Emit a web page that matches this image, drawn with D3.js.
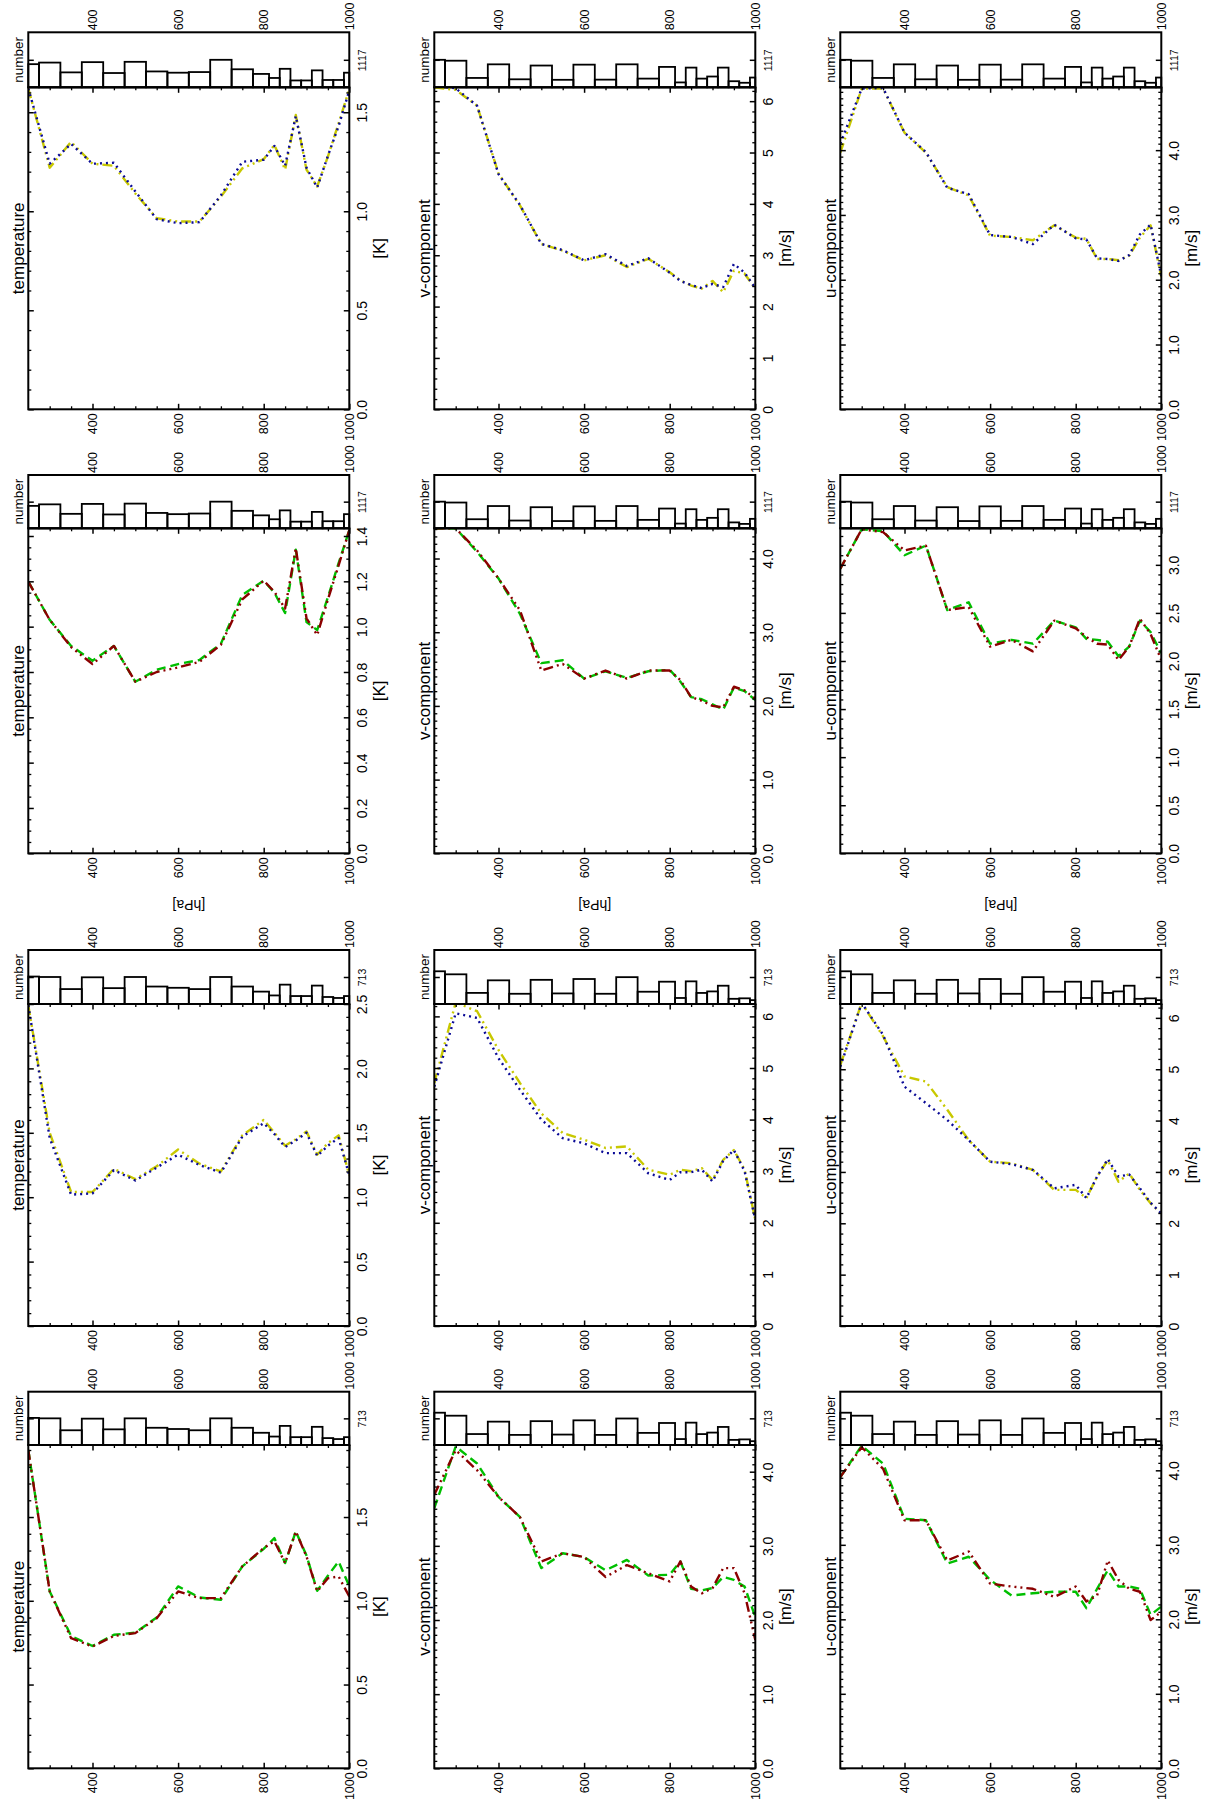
<!DOCTYPE html>
<html>
<head>
<meta charset="utf-8">
<script src="https://cdn.jsdelivr.net/npm/d3@7"></script>
<style>
  body { margin: 0; background: #fff; }
  svg { display: block; }
  text { font-family: "Liberation Sans", Arial, Helvetica, sans-serif; fill: #000; }
</style>
</head>
<body>
<svg id="fig" width="1208" height="1818"></svg>
<script>
// Pressure levels (hPa) of the profiles and of the histogram bins
const levels = [250, 300, 350, 400, 450, 500, 550, 600, 650, 700, 750, 800, 825, 850, 875, 900, 925, 950, 975, 1000];
const pressureLabels = [400, 600, 800, 1000];
const pressureMinor = [300, 350, 450, 500, 550, 650, 700, 750, 850, 900, 950];

// Number of observations per level
const tempCounts1117 = [940, 1004, 606, 1022, 580, 1035, 644, 593, 619, 1117, 732, 543, 379, 751, 278, 278, 688, 297, 297, 593];
const windCounts1117 = [1117, 1080, 380, 933, 325, 884, 304, 920, 311, 933, 353, 828, 198, 800, 353, 438, 800, 247, 184, 396];
const tempCounts713 = [725, 713, 394, 705, 419, 713, 461, 428, 394, 713, 461, 327, 226, 511, 210, 210, 486, 185, 159, 210];
const windCounts713 = [864, 784, 293, 625, 270, 638, 279, 660, 270, 709, 324, 589, 159, 598, 292, 332, 483, 137, 150, 102];

// Profiles, 1117-observation set, first pair
const t1117Yellow = [1.62, 1.22, 1.35, 1.24, 1.23, 1.09, 0.965, 0.948, 0.948, 1.074, 1.217, 1.263, 1.335, 1.21, 1.486, 1.21, 1.125, 1.276, 1.444, 1.616];
const t1117Blue   = [1.62, 1.24, 1.34, 1.24, 1.245, 1.10, 0.96, 0.94, 0.945, 1.08, 1.25, 1.26, 1.33, 1.23, 1.48, 1.22, 1.12, 1.28, 1.43, 1.61];
const v1117Yellow = [6.27, 6.22, 5.91, 4.59, 3.97, 3.22, 3.09, 2.90, 3.00, 2.77, 2.93, 2.67, 2.51, 2.41, 2.35, 2.50, 2.28, 2.70, 2.64, 2.35];
const v1117Blue   = [6.30, 6.25, 5.91, 4.58, 3.98, 3.22, 3.10, 2.90, 3.02, 2.79, 2.94, 2.66, 2.50, 2.42, 2.36, 2.44, 2.38, 2.83, 2.66, 2.36];
const u1117Yellow = [3.96, 4.95, 4.95, 4.27, 3.96, 3.43, 3.30, 2.68, 2.66, 2.61, 2.84, 2.65, 2.63, 2.32, 2.32, 2.30, 2.37, 2.65, 2.84, 2.04];
const u1117Blue   = [4.10, 4.95, 4.96, 4.27, 3.97, 3.42, 3.32, 2.69, 2.66, 2.55, 2.85, 2.64, 2.62, 2.33, 2.32, 2.29, 2.38, 2.70, 2.85, 2.06];

// Profiles, 1117-observation set, second pair
const t1117Red   = [1.199, 1.03, 0.91, 0.835, 0.915, 0.757, 0.80, 0.82, 0.845, 0.92, 1.12, 1.203, 1.154, 1.08, 1.346, 1.037, 0.963, 1.12, 1.27, 1.426];
const t1117Green = [1.199, 1.03, 0.915, 0.85, 0.915, 0.757, 0.81, 0.835, 0.853, 0.925, 1.14, 1.203, 1.15, 1.06, 1.34, 1.02, 0.985, 1.13, 1.28, 1.426];
const v1117Red   = [4.41, 4.41, 4.11, 3.73, 3.30, 2.48, 2.57, 2.37, 2.48, 2.37, 2.48, 2.48, 2.35, 2.12, 2.07, 2.00, 1.98, 2.26, 2.21, 2.10];
const v1117Green = [4.41, 4.41, 4.09, 3.73, 3.25, 2.58, 2.62, 2.37, 2.47, 2.38, 2.47, 2.49, 2.33, 2.12, 2.09, 2.02, 1.95, 2.25, 2.20, 2.08];
const u1117Red   = [2.96, 3.37, 3.34, 3.15, 3.20, 2.53, 2.56, 2.15, 2.22, 2.10, 2.42, 2.34, 2.25, 2.18, 2.17, 2.01, 2.15, 2.44, 2.28, 2.01];
const u1117Green = [2.96, 3.37, 3.35, 3.10, 3.20, 2.53, 2.61, 2.18, 2.22, 2.18, 2.42, 2.35, 2.23, 2.22, 2.20, 2.05, 2.15, 2.42, 2.30, 2.08];

// Profiles, 713-observation set, first pair
const t713Yellow = [2.49, 1.50, 1.04, 1.04, 1.22, 1.14, 1.24, 1.37, 1.26, 1.20, 1.48, 1.60, 1.50, 1.40, 1.45, 1.51, 1.33, 1.42, 1.48, 1.17];
const t713Blue   = [2.49, 1.46, 1.02, 1.03, 1.21, 1.13, 1.23, 1.33, 1.25, 1.19, 1.47, 1.575, 1.49, 1.39, 1.44, 1.50, 1.32, 1.40, 1.46, 1.17];
const v713Yellow = [4.71, 6.27, 6.10, 5.35, 4.71, 4.12, 3.74, 3.61, 3.45, 3.48, 3.03, 2.93, 3.03, 3.00, 3.06, 2.83, 3.22, 3.41, 3.03, 2.06];
const v713Blue   = [4.64, 6.06, 5.97, 5.19, 4.58, 4.00, 3.64, 3.54, 3.35, 3.35, 2.96, 2.83, 2.98, 2.98, 3.03, 2.80, 3.20, 3.41, 3.00, 2.06];
const u713Yellow = [5.08, 6.29, 5.64, 4.86, 4.76, 4.21, 3.62, 3.20, 3.17, 3.04, 2.65, 2.65, 2.49, 2.91, 3.23, 2.81, 2.97, 2.65, 2.39, 2.19];
const u713Blue   = [5.05, 6.29, 5.67, 4.66, 4.34, 4.01, 3.62, 3.20, 3.15, 3.04, 2.68, 2.75, 2.49, 2.91, 3.25, 2.91, 2.95, 2.68, 2.40, 2.19];

// Profiles, 713-observation set, second pair
const t713Red   = [1.90, 1.056, 0.777, 0.727, 0.79, 0.807, 0.896, 1.056, 1.016, 1.016, 1.205, 1.315, 1.355, 1.225, 1.414, 1.265, 1.056, 1.135, 1.145, 1.026];
const t713Green = [1.90, 1.056, 0.79, 0.73, 0.797, 0.81, 0.90, 1.086, 1.02, 1.006, 1.205, 1.31, 1.374, 1.225, 1.414, 1.27, 1.06, 1.15, 1.235, 1.086];
const v713Red   = [3.69, 4.29, 4.02, 3.66, 3.39, 2.79, 2.90, 2.85, 2.58, 2.74, 2.63, 2.52, 2.79, 2.45, 2.36, 2.43, 2.70, 2.70, 2.36, 1.73];
const v713Green = [3.51, 4.34, 4.11, 3.66, 3.39, 2.70, 2.90, 2.85, 2.67, 2.81, 2.60, 2.61, 2.79, 2.42, 2.40, 2.43, 2.58, 2.54, 2.45, 2.04];
const u713Red   = [3.91, 4.31, 4.02, 3.33, 3.33, 2.79, 2.91, 2.48, 2.44, 2.41, 2.30, 2.44, 2.24, 2.32, 2.79, 2.53, 2.41, 2.37, 1.99, 2.10];
const u713Green = [3.91, 4.33, 4.09, 3.35, 3.33, 2.75, 2.84, 2.53, 2.32, 2.35, 2.37, 2.37, 2.15, 2.41, 2.66, 2.44, 2.44, 2.41, 2.06, 2.17];

// Line styles for the two pairs of curves
const styles = {
  yellow: { color: "#c8c800", dash: "10,4,2,4,2,4" },
  blue:   { color: "#0a0a96", dash: "2,4" },
  red:    { color: "#8b0000", dash: "10,4,2,4,2,4,2,4" },
  green:  { color: "#00bf00", dash: "9,5" }
};

// Panel definitions: row/col in the page grid, axis settings and the series to draw
const panels = [
  { row: 0, col: 0, title: "temperature", unit: "[K]",   vmax: 1.626, major: 0.5, minor: 0.1,  fmt: ".1f", hist: tempCounts1117, nTick: 1117, series: [["yellow", t1117Yellow], ["blue", t1117Blue]] },
  { row: 0, col: 1, title: "v-component", unit: "[m/s]", vmax: 6.27,  major: 1,   minor: 0.2,  fmt: "d",   hist: windCounts1117, nTick: 1117, series: [["yellow", v1117Yellow], ["blue", v1117Blue]] },
  { row: 0, col: 2, title: "u-component", unit: "[m/s]", vmax: 4.97,  major: 1,   minor: 0.1,  fmt: ".1f", hist: windCounts1117, nTick: 1117, series: [["yellow", u1117Yellow], ["blue", u1117Blue]] },
  { row: 1, col: 0, title: "temperature", unit: "[K]",   vmax: 1.434, major: 0.2, minor: 0.05, fmt: ".1f", hist: tempCounts1117, nTick: 1117, series: [["green", t1117Green], ["red", t1117Red]] },
  { row: 1, col: 1, title: "v-component", unit: "[m/s]", vmax: 4.41,  major: 1,   minor: 0.1,  fmt: ".1f", hist: windCounts1117, nTick: 1117, series: [["green", v1117Green], ["red", v1117Red]] },
  { row: 1, col: 2, title: "u-component", unit: "[m/s]", vmax: 3.38,  major: 0.5, minor: 0.1,  fmt: ".1f", hist: windCounts1117, nTick: 1117, series: [["green", u1117Green], ["red", u1117Red]] },
  { row: 2, col: 0, title: "temperature", unit: "[K]",   vmax: 2.5,   major: 0.5, minor: 0.1,  fmt: ".1f", hist: tempCounts713,  nTick: 713,  series: [["yellow", t713Yellow], ["blue", t713Blue]] },
  { row: 2, col: 1, title: "v-component", unit: "[m/s]", vmax: 6.24,  major: 1,   minor: 0.2,  fmt: "d",   hist: windCounts713,  nTick: 713,  series: [["yellow", v713Yellow], ["blue", v713Blue]] },
  { row: 2, col: 2, title: "u-component", unit: "[m/s]", vmax: 6.27,  major: 1,   minor: 0.2,  fmt: "d",   hist: windCounts713,  nTick: 713,  series: [["yellow", u713Yellow], ["blue", u713Blue]] },
  { row: 3, col: 0, title: "temperature", unit: "[K]",   vmax: 1.93,  major: 0.5, minor: 0.1,  fmt: ".1f", hist: tempCounts713,  nTick: 713,  series: [["green", t713Green], ["red", t713Red]] },
  { row: 3, col: 1, title: "v-component", unit: "[m/s]", vmax: 4.36,  major: 1,   minor: 0.1,  fmt: ".1f", hist: windCounts713,  nTick: 713,  series: [["green", v713Green], ["red", v713Red]] },
  { row: 3, col: 2, title: "u-component", unit: "[m/s]", vmax: 4.34,  major: 1,   minor: 0.1,  fmt: ".1f", hist: windCounts713,  nTick: 713,  series: [["green", u713Green], ["red", u713Red]] }
];

// Page layout
const colX = [28.3, 434.3, 840.3];
const plotW = 321;
const histTop = [32.3, 475.0, 950.0, 1391.7];
const mainTop = [87.3, 528.3, 1004.0, 1445.0];
const mainBot = [409.3, 853.3, 1326.0, 1768.3];
const MAJ = 5.5, MIN = 3;

// Histogram bin edges halfway between levels, closed at the range ends
const binLo = levels.map((p, i) => i === 0 ? p : (levels[i - 1] + p) / 2);
const binHi = levels.map((p, i) => i === levels.length - 1 ? p : (levels[i + 1] + p) / 2);

const svg = d3.select("#fig");
const defs = svg.append("defs");

function rangeTicks(max, step) {
  const n = Math.floor(max / step + 1e-6);
  return d3.range(0, n + 1).map(i => +(i * step).toFixed(4));
}

function styleAxis(g, width) {
  g.select(".domain").remove();
  g.selectAll(".tick line").attr("stroke", "#000").attr("stroke-width", width);
}

panels.forEach((p, k) => {
  const x0 = colX[p.col], x1 = x0 + plotW;
  const top = mainTop[p.row], bot = mainBot[p.row], hTop = histTop[p.row];

  const xs = d3.scaleLinear().domain([250, 1000]).range([x0, x1]);
  const ys = d3.scaleLinear().domain([0, p.vmax]).range([bot, top]);
  const hs = d3.scaleLinear().domain([0, p.nTick * 2]).range([top, hTop]);

  const g = svg.append("g");

  // ---- histogram of observation counts
  g.append("g").selectAll("rect").data(p.hist).join("rect")
    .attr("x", (d, i) => xs(binLo[i]))
    .attr("width", (d, i) => xs(binHi[i]) - xs(binLo[i]))
    .attr("y", d => hs(d))
    .attr("height", d => top - hs(d))
    .attr("fill", "none").attr("stroke", "#000").attr("stroke-width", 1.8);

  g.append("rect").attr("x", x0).attr("y", hTop).attr("width", plotW).attr("height", top - hTop)
    .attr("fill", "none").attr("stroke", "#000").attr("stroke-width", 2);

  // count axis: one tick, on both sides
  g.append("g").attr("transform", `translate(${x0},0)`)
    .call(d3.axisLeft(hs).tickValues([p.nTick]).tickSize(-MAJ).tickFormat(""))
    .call(a => styleAxis(a, 1.5));
  const hr = g.append("g").attr("transform", `translate(${x1},0)`)
    .call(d3.axisRight(hs).tickValues([p.nTick]).tickSize(-MAJ).tickFormat(d3.format("d")))
    .call(a => styleAxis(a, 1.5));
  hr.selectAll(".tick text")
    .attr("x", 0).attr("dy", null).attr("text-anchor", "middle")
    .attr("dominant-baseline", "central")
    .attr("transform", "translate(13,0) rotate(-90)")
    .style("font-size", "10.5px").style("font-family", null);

  // pressure labels above the histogram
  const ht = g.append("g").attr("transform", `translate(0,${hTop})`)
    .call(d3.axisTop(xs).tickValues(pressureLabels).tickSize(0).tickFormat(d3.format("d")))
    .call(a => styleAxis(a, 1.5));
  ht.selectAll(".tick text")
    .attr("y", 0).attr("dy", null).attr("text-anchor", "start")
    .attr("dominant-baseline", "central")
    .attr("transform", "translate(0,-2) rotate(-90)")
    .style("font-size", "12.5px").style("font-family", null);

  g.append("text")
    .attr("transform", `translate(${x0 - 10},${(hTop + top) / 2}) rotate(-90)`)
    .attr("text-anchor", "middle").attr("dominant-baseline", "central")
    .style("font-size", "13.5px").text("number");

  // ---- profile panel
  const clipId = "clip" + k;
  defs.append("clipPath").attr("id", clipId)
    .append("rect").attr("x", x0).attr("y", top).attr("width", plotW).attr("height", bot - top);

  const line = d3.line().x((d, i) => xs(levels[i])).y(d => ys(d));
  const lg = g.append("g").attr("clip-path", `url(#${clipId})`);
  p.series.forEach(([name, vals]) => {
    lg.append("path").datum(vals)
      .attr("d", line)
      .attr("fill", "none")
      .attr("stroke", styles[name].color)
      .attr("stroke-width", 2.4)
      .attr("stroke-dasharray", styles[name].dash)
      .attr("stroke-linejoin", "round");
  });

  g.append("rect").attr("x", x0).attr("y", top).attr("width", plotW).attr("height", bot - top)
    .attr("fill", "none").attr("stroke", "#000").attr("stroke-width", 2);

  const majorVals = rangeTicks(p.vmax, p.major);
  const minorVals = rangeTicks(p.vmax, p.minor).filter(v => !majorVals.some(m => Math.abs(m - v) < 1e-6));

  // value axis: ticks on both sides, labels on the right
  [[d3.axisLeft, x0], [d3.axisRight, x1]].forEach(([axisFn, xp]) => {
    g.append("g").attr("transform", `translate(${xp},0)`)
      .call(axisFn(ys).tickValues(minorVals).tickSize(-MIN).tickFormat(""))
      .call(a => styleAxis(a, 1.3));
  });
  g.append("g").attr("transform", `translate(${x0},0)`)
    .call(d3.axisLeft(ys).tickValues(majorVals).tickSize(-MAJ).tickFormat(""))
    .call(a => styleAxis(a, 1.5));
  const vr = g.append("g").attr("transform", `translate(${x1},0)`)
    .call(d3.axisRight(ys).tickValues(majorVals).tickSize(-MAJ).tickFormat(d3.format(p.fmt)))
    .call(a => styleAxis(a, 1.5));
  vr.selectAll(".tick text")
    .attr("x", 0).attr("dy", null).attr("text-anchor", "middle")
    .attr("dominant-baseline", "central")
    .attr("transform", "translate(13,0) rotate(-90)")
    .style("font-size", "14px").style("font-family", null);

  // pressure axis: ticks top and bottom, labels at the bottom
  [[d3.axisTop, top], [d3.axisBottom, bot]].forEach(([axisFn, yp]) => {
    g.append("g").attr("transform", `translate(0,${yp})`)
      .call(axisFn(xs).tickValues(pressureMinor).tickSize(-MIN).tickFormat(""))
      .call(a => styleAxis(a, 1.3));
  });
  g.append("g").attr("transform", `translate(0,${top})`)
    .call(d3.axisTop(xs).tickValues(pressureLabels).tickSize(-MAJ).tickFormat(""))
    .call(a => styleAxis(a, 1.5));
  const pb = g.append("g").attr("transform", `translate(0,${bot})`)
    .call(d3.axisBottom(xs).tickValues(pressureLabels).tickSize(-MAJ).tickFormat(d3.format("d")))
    .call(a => styleAxis(a, 1.5));
  pb.selectAll(".tick text")
    .attr("y", 0).attr("dy", null).attr("text-anchor", "end")
    .attr("dominant-baseline", "central")
    .attr("transform", "translate(0,4) rotate(-90)")
    .style("font-size", "12.5px").style("font-family", null);

  // titles
  g.append("text")
    .attr("transform", `translate(${x0 - 10},${(top + bot) / 2}) rotate(-90)`)
    .attr("text-anchor", "middle").attr("dominant-baseline", "central")
    .style("font-size", "17px").text(p.title);
  g.append("text")
    .attr("transform", `translate(${x1 + 30},${(top + bot) / 2}) rotate(-90)`)
    .attr("text-anchor", "middle").attr("dominant-baseline", "central")
    .style("font-size", "17px").text(p.unit);
});

// shared pressure title for each column, between the two panel blocks
colX.forEach(x0 => {
  svg.append("text")
    .attr("transform", `translate(${x0 + plotW / 2},905) rotate(180)`)
    .attr("text-anchor", "middle").attr("dominant-baseline", "central")
    .style("font-size", "14px").text("[hPa]");
});
</script>
</body>
</html>
